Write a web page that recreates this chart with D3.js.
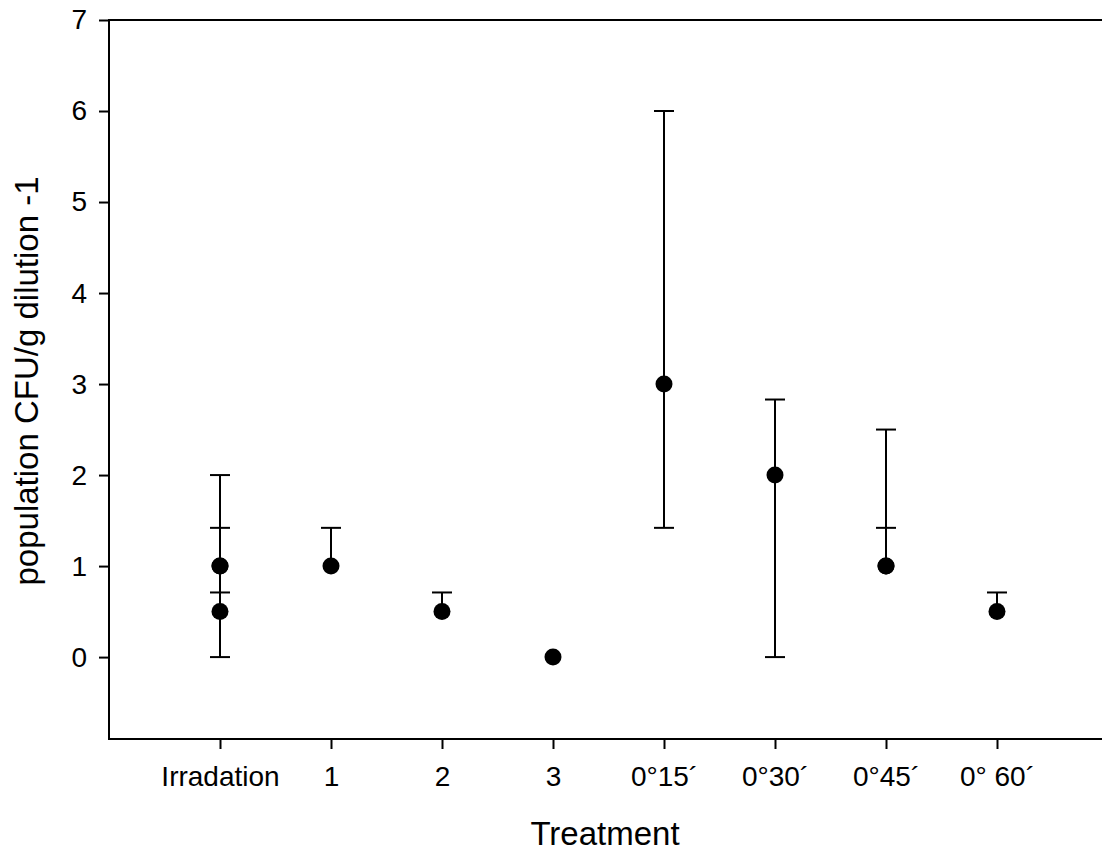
<!DOCTYPE html>
<html>
<head>
<meta charset="utf-8">
<script src="https://cdn.jsdelivr.net/npm/d3@7"></script>
<style>
  body { margin: 0; background: #fff; }
  svg { display: block; font-family: "Liberation Sans", Arial, sans-serif; }
</style>
</head>
<body>
<svg id="chart" width="1102" height="852"></svg>
<script>
// Treatments on the x axis
const treatments = ['Irradation', '1', '2', '3', '0°15´', '0°30´', '0°45´', '0° 60´'];
const yTicks = [0, 1, 2, 3, 4, 5, 6, 7];

// One entry per plotted point (some treatments have several)
const pointTreatment = ['Irradation', 'Irradation', 'Irradation', '1', '2', '3', '0°15´', '0°30´', '0°45´', '0°45´', '0° 60´'];
const pointMean = [1, 0.5, 1, 1, 0.5, 0, 3, 2, 1, 1, 0.5];
const pointLow = [0, 0.5, 1, 1, 0.5, 0, 1.42, 0, 1, 1, 0.5];
const pointHigh = [2, 0.71, 1.42, 1.42, 0.71, 0, 6, 2.83, 1.42, 2.5, 0.71];

const svg = d3.select('#chart');
const plotLeft = 109, plotTop = 20, plotRight = 1108, plotBottom = 739;

const x = d3.scaleLinear().domain([0, treatments.length + 1]).range([plotLeft, plotRight]);
const y = d3.scaleLinear().domain([-0.9, 7]).range([plotBottom, plotTop]);
const xPos = (t) => x(treatments.indexOf(t) + 1);

// Frame (left, top, bottom; right edge runs off the picture)
svg.append('path')
  .attr('d', `M${plotRight},${plotTop}H${plotLeft}V${plotBottom}H${plotRight}`)
  .attr('stroke', '#000').attr('stroke-width', 2).attr('fill', 'none');

// Y axis ticks and labels
const yAxis = svg.append('g').attr('transform', `translate(${plotLeft},0)`)
  .call(d3.axisLeft(y).tickValues(yTicks).tickSize(10).tickPadding(12).tickFormat(d3.format('d')));
yAxis.select('.domain').remove();
yAxis.selectAll('line').attr('stroke', '#000').attr('stroke-width', 2);
yAxis.selectAll('text').attr('font-size', 28).attr('fill', '#000')
  .attr('font-family', '"Liberation Sans", Arial, sans-serif');

// X axis ticks and labels
const xAxis = svg.append('g').attr('transform', `translate(0,${plotBottom})`)
  .call(d3.axisBottom(x).tickValues(d3.range(1, treatments.length + 1)).tickSize(10).tickPadding(17)
    .tickFormat((d) => treatments[d - 1]));
xAxis.select('.domain').remove();
xAxis.selectAll('line').attr('stroke', '#000').attr('stroke-width', 2);
xAxis.selectAll('text').attr('font-size', 28).attr('fill', '#000')
  .attr('font-family', '"Liberation Sans", Arial, sans-serif');

// Axis titles
svg.append('text')
  .attr('x', 605).attr('y', 845)
  .attr('text-anchor', 'middle').attr('font-size', 33)
  .text('Treatment');

svg.append('text')
  .attr('transform', 'translate(38,381) rotate(-90)')
  .attr('text-anchor', 'middle').attr('font-size', 33)
  .text('population CFU/g dilution -1');

// Error bars
const points = pointMean.map((m, i) => ({
  t: pointTreatment[i], mean: m, low: pointLow[i], high: pointHigh[i]
}));

const bars = svg.append('g').attr('stroke', '#000').attr('stroke-width', 2);
points.forEach((p) => {
  const cx = xPos(p.t);
  if (p.high > p.low) {
    bars.append('line').attr('x1', cx).attr('x2', cx).attr('y1', y(p.low)).attr('y2', y(p.high));
  }
  if (p.high > p.mean) {
    bars.append('line').attr('x1', cx - 10).attr('x2', cx + 10).attr('y1', y(p.high)).attr('y2', y(p.high));
  }
  if (p.low < p.mean) {
    bars.append('line').attr('x1', cx - 10).attr('x2', cx + 10).attr('y1', y(p.low)).attr('y2', y(p.low));
  }
});

// Points
svg.append('g').selectAll('circle')
  .data(points)
  .join('circle')
  .attr('cx', (d) => xPos(d.t))
  .attr('cy', (d) => y(d.mean))
  .attr('r', 8.5)
  .attr('fill', '#000');
</script>
</body>
</html>
